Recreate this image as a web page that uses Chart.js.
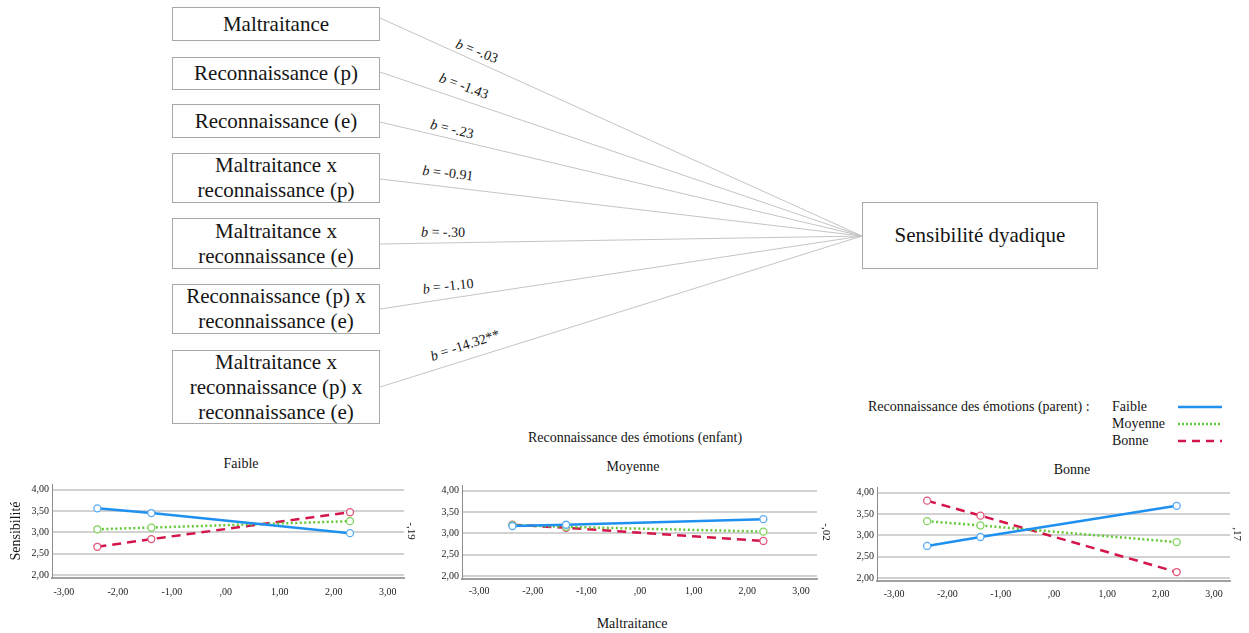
<!DOCTYPE html>
<html lang="fr">
<head>
<meta charset="utf-8">
<title>Sensibilité dyadique</title>
<script src="https://cdn.jsdelivr.net/npm/chart.js@4.4.1/dist/chart.umd.min.js"></script>
<style>
  body { margin:0; width:1249px; height:633px; background:#fff; position:relative; overflow:hidden;
         font-family:"Liberation Serif","Times New Roman",serif; color:#151515; }
  #diagram { position:absolute; left:0; top:0; }
  .box { position:absolute; border:1px solid #a8a8a8; box-sizing:border-box; background:#fff;
         display:flex; align-items:center; justify-content:center; text-align:center;
         font-size:21px; line-height:25px; }
  .txt { position:absolute; transform:translate(-50%,-50%); white-space:nowrap; font-size:14px; }
  .lt { position:absolute; white-space:nowrap; font-size:14px; line-height:16px; }
  canvas { position:absolute; }
</style>
</head>
<body>
<svg id="diagram" width="1249" height="633"></svg>

<script>
// --- data ---
const predictors = [
  "Maltraitance",
  "Reconnaissance (p)",
  "Reconnaissance (e)",
  "Maltraitance x<br>reconnaissance (p)",
  "Maltraitance x<br>reconnaissance (e)",
  "Reconnaissance (p) x<br>reconnaissance (e)",
  "Maltraitance x<br>reconnaissance (p) x<br>reconnaissance (e)"
];
const outcome = "Sensibilité dyadique";
const coefficients = ["-.03", "-1.43", "-.23", "-0.91", "-.30", "-1.10", "-14.32**"];

const maltraitance = [-2.38, -1.38, 2.3];
const xTicks = [-3, -2, -1, 0, 1, 2, 3];
const yTicks = [2, 2.5, 3, 3.5, 4];
const panelsEnfant = ["Faible", "Moyenne", "Bonne"];
const groupesParent = ["Faible", "Moyenne", "Bonne"];
const pentes = ["-,19", "-,02", ",17"];

// panel "Faible" (enfant)
const faible_parFaible  = [3.56, 3.45, 2.98];
const faible_parMoyenne = [3.07, 3.11, 3.26];
const faible_parBonne   = [2.66, 2.84, 3.47];
// panel "Moyenne" (enfant)
const moyenne_parFaible  = [3.17, 3.20, 3.33];
const moyenne_parMoyenne = [3.19, 3.15, 3.04];
const moyenne_parBonne   = [3.20, 3.13, 2.82];
// panel "Bonne" (enfant)
const bonne_parFaible  = [2.75, 2.96, 3.69];
const bonne_parMoyenne = [3.33, 3.23, 2.84];
const bonne_parBonne   = [3.81, 3.46, 2.14];

// --- path diagram ---
const FONT = '"Liberation Serif","Times New Roman",serif';
const boxes = [[7,34],[57,33],[104,34],[153,50],[218,51],[284,50],[350,74]];
const lineStarts = [18, 72, 122, 179, 244, 309, 387];
const labelPos = [[477,51,22],[464,86,21],[452,129,14],[448,173,7],[443,232,1],[448,286,-6],[465,345,-18]];
const target = {x: 862, y: 236};

const svg = document.getElementById('diagram');
let s = '';
lineStarts.forEach(y => {
  s += `<line x1="380" y1="${y}" x2="${target.x}" y2="${target.y}" stroke="#c4c4c4" stroke-width="1"/>`;
});
coefficients.forEach((c, i) => {
  const [x, y, r] = labelPos[i];
  s += `<text x="${x}" y="${y}" transform="rotate(${r} ${x} ${y})" text-anchor="middle" dominant-baseline="central"
        font-family='${FONT}' font-size="14" fill="#151515"><tspan font-style="italic">b</tspan> = ${c}</text>`;
});
// legend samples
s += `<line x1="1178" y1="407" x2="1222" y2="407" stroke="#1e90f0" stroke-width="2.5"/>`;
s += `<line x1="1178" y1="424" x2="1222" y2="424" stroke="#63c837" stroke-width="2.5" stroke-dasharray="2,2"/>`;
s += `<line x1="1178" y1="441" x2="1222" y2="441" stroke="#d3164a" stroke-width="2.5" stroke-dasharray="8,6"/>`;
svg.innerHTML = s;

predictors.forEach((p, i) => {
  const d = document.createElement('div');
  d.className = 'box';
  d.style.cssText = `left:172px;width:208px;top:${boxes[i][0]}px;height:${boxes[i][1]}px;`;
  d.innerHTML = p;
  document.body.appendChild(d);
});
const tb = document.createElement('div');
tb.className = 'box';
tb.style.cssText = 'left:862px;top:202px;width:236px;height:67px;';
tb.textContent = outcome;
document.body.appendChild(tb);

function addText(txt, x, y, cls) {
  const d = document.createElement('div');
  d.className = cls || 'txt';
  d.style.left = x + 'px';
  d.style.top = y + 'px';
  d.textContent = txt;
  document.body.appendChild(d);
}
addText("Reconnaissance des émotions (enfant)", 635, 438);
addText("Maltraitance", 632, 624);
addText("Reconnaissance des émotions (parent) :", 868, 399, 'lt');
groupesParent.forEach((g, i) => addText(g, 1112, 399 + i * 17, 'lt'));

// --- interaction panels ---
const fmt = v => {
  let t = Math.abs(v).toFixed(2).replace('.', ',');
  if (t.startsWith('0')) t = t.slice(1);
  return (v < 0 ? '-' : '') + t;
};

const styles = [
  { borderColor:'#1e90f0', pointBorderColor:'#58acf6', borderDash:[] },
  { borderColor:'#63c837', pointBorderColor:'#80d35c', borderDash:[2,2.5] },
  { borderColor:'#d3164a', pointBorderColor:'#e25479', borderDash:[9,6] }
];
const panelData = [
  [faible_parFaible, faible_parMoyenne, faible_parBonne],
  [moyenne_parFaible, moyenne_parMoyenne, moyenne_parBonne],
  [bonne_parFaible, bonne_parMoyenne, bonne_parBonne]
];
const layout = [
  { L:0,   T:475, W:420, H:125, yW:52, rW:16, padTop:8,  xH:22, xPad:8, rPad:3, xMin:-3.22, title:[241,464] },
  { L:420, T:475, W:420, H:125, yW:42, rW:23, padTop:10, xH:21, xPad:6, rPad:8, xMin:-3.32, title:[633,467] },
  { L:840, T:475, W:409, H:125, yW:37, rW:19, padTop:12, xH:19, xPad:7, rPad:6, xMin:-3.32, title:[1072,470] }
];

panelsEnfant.forEach((name, p) => {
  const lay = layout[p];
  addText(name, lay.title[0], lay.title[1]);
  const cv = document.createElement('canvas');
  cv.width = lay.W; cv.height = lay.H;
  cv.style.left = lay.L + 'px'; cv.style.top = lay.T + 'px';
  document.body.appendChild(cv);

  const datasets = panelData[p].map((vals, k) => ({
    label: groupesParent[k],
    data: maltraitance.map((x, i) => ({ x: x, y: vals[i] })),
    borderWidth: 2.5,
    pointRadius: 3.5,
    pointBorderWidth: 1.3,
    pointBackgroundColor: '#fff',
    tension: 0,
    ...styles[k]
  }));

  new Chart(cv, {
    type: 'line',
    data: { datasets },
    options: {
      responsive: false,
      animation: false,
      layout: { padding: { top: lay.padTop, left: 0, right: 0, bottom: 0 } },
      plugins: { legend: { display: false }, tooltip: { enabled: false } },
      scales: {
        x: {
          type: 'linear', min: lay.xMin, max: 3.3,
          afterBuildTicks: sc => { sc.ticks = xTicks.map(v => ({ value: v })); },
          afterFit: sc => { sc.height = lay.xH; },
          ticks: { callback: v => fmt(v), autoSkip: false, maxRotation: 0, padding: lay.xPad,
                   color: '#222', font: { family: FONT, size: 10 } },
          grid: { display: false, drawTicks: false },
          border: { display: true, color: '#a2a2a2', width: 2 }
        },
        y: {
          min: 1.93, max: 4.13,
          afterBuildTicks: sc => { sc.ticks = yTicks.map(v => ({ value: v })); },
          afterFit: sc => { sc.width = lay.yW; },
          ticks: { callback: v => fmt(v), padding: 3, color: '#222', font: { family: FONT, size: 10 } },
          grid: { color: '#d2d2d2', lineWidth: 2, drawTicks: false },
          border: { display: true, color: '#8c8c8c', width: 1 },
          title: { display: p === 0, text: 'Sensibilité', color: '#151515',
                   font: { family: FONT, size: 14 }, padding: { top: 8, bottom: 0 } }
        },
        y1: {
          position: 'right', min: 0, max: 1,
          afterFit: sc => { sc.width = lay.rW; },
          ticks: { display: false },
          grid: { display: false, drawTicks: false },
          border: { display: false },
          title: { display: true, text: pentes[p], color: '#151515',
                   font: { family: FONT, size: 11 }, padding: { top: lay.rPad, bottom: 0 } }
        }
      }
    }
  });
});
</script>
</body>
</html>
